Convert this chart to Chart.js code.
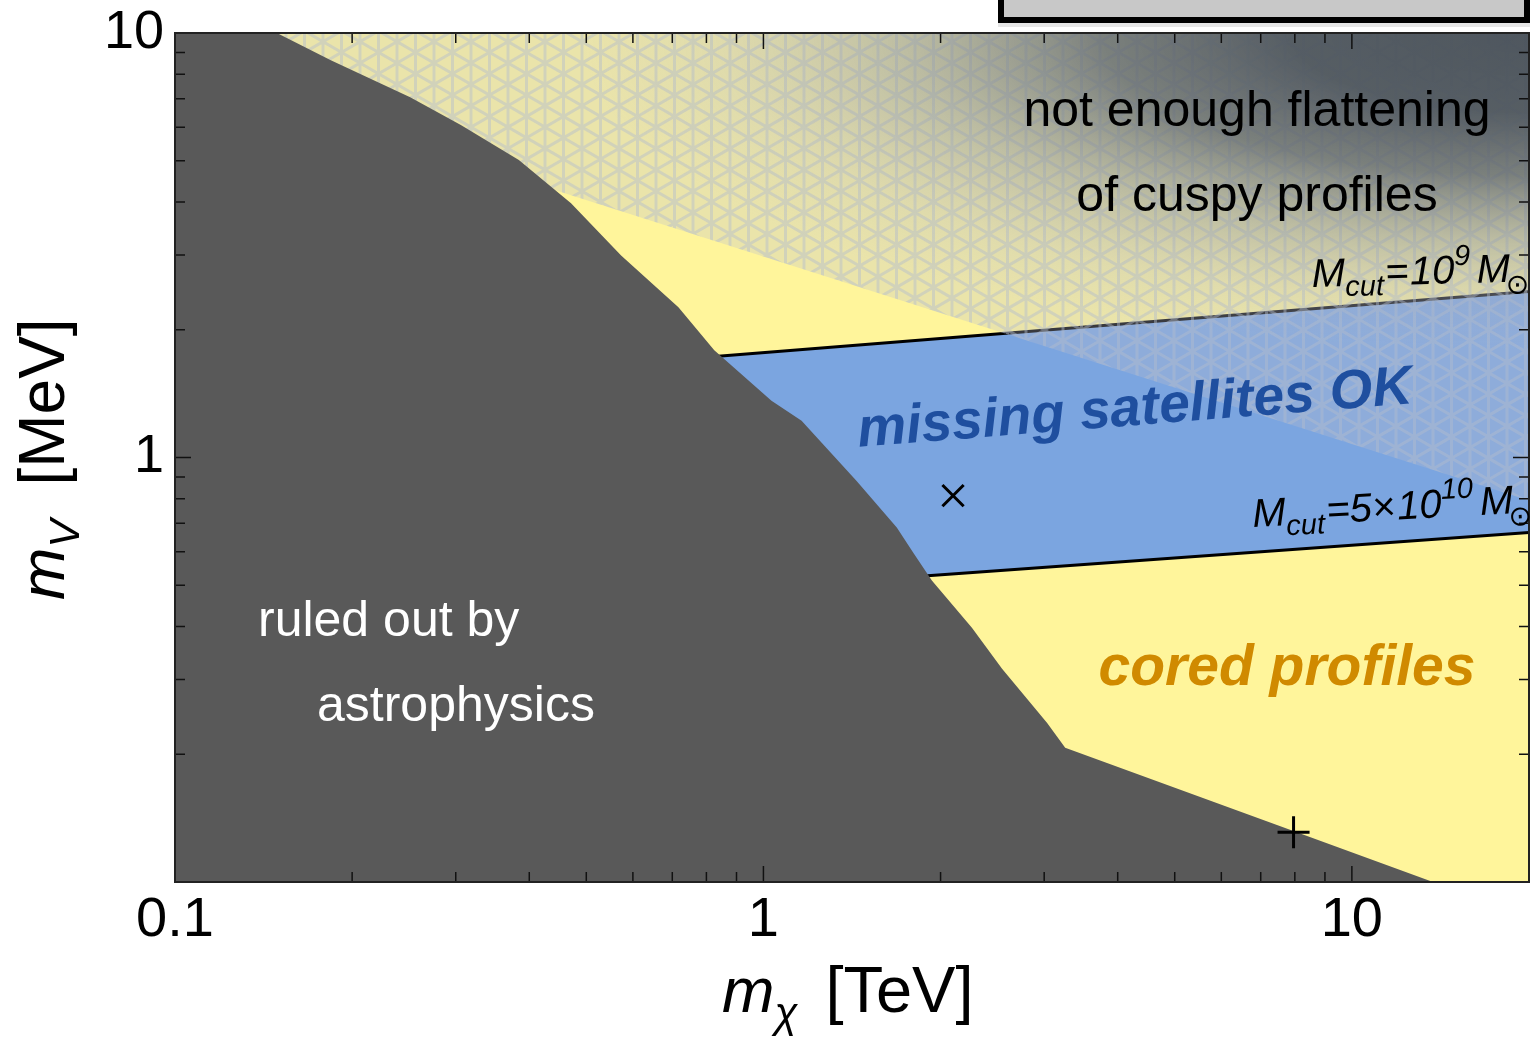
<!DOCTYPE html>
<html>
<head>
<meta charset="utf-8">
<script src="https://cdn.jsdelivr.net/npm/chart.js@4.4.1/dist/chart.umd.min.js"></script>
<style>
  body { margin: 0; background: #fff; }
  #wrap { width: 1532px; height: 1037px; }
</style>
</head>
<body>
<div id="wrap"><canvas id="chart" width="1532" height="1037"></canvas></div>
<script>
// axis ranges and ticks
var xRange = [0.1, 20];
var yRange = [0.1, 10];
var xTicks = [0.1, 0.2, 0.3, 0.4, 0.5, 0.6, 0.7, 0.8, 0.9, 1, 2, 3, 4, 5, 6, 7, 8, 9, 10, 20];
var yTicks = [0.1, 0.2, 0.3, 0.4, 0.5, 0.6, 0.7, 0.8, 0.9, 1, 2, 3, 4, 5, 6, 7, 8, 9, 10];
var xTickLabels = { 0.1: '0.1', 1: '1', 10: '10' };
var yTickLabels = { 1: '1', 10: '10' };

// ruled out by astrophysics (boundary, filled down to the bottom)
var ruledOutX = [0.1, 0.149, 0.184, 0.251, 0.306, 0.384, 0.471, 0.573, 0.717, 0.825, 1.032, 1.161, 1.44, 1.685, 1.801, 1.933, 2.261, 2.544, 3.035, 3.257, 7.934, 13.74];
var ruledOutY = [10, 10, 8.63, 7.06, 6.07, 5.02, 3.97, 2.99, 2.26, 1.79, 1.36, 1.22, 0.88, 0.684, 0.594, 0.513, 0.397, 0.318, 0.237, 0.207, 0.132, 0.1];

// M_cut = 1e9 Msun and 5e10 Msun lines
var cut9X = [0.75, 20];
var cut9Y = [1.71, 2.46];
var cut510X = [1.8, 20];
var cut510Y = [0.524, 0.666];

// "missing satellites OK" band (left side hidden under the ruled-out region)
var bandX = [0.75, 20, 20, 1.8, 0.75];
var bandY = [1.71, 2.46, 0.666, 0.524, 0.524];

// "not enough flattening" shaded region
var cuspyX = [0.12, 0.3, 20, 20];
var cuspyY = [10, 5.06, 0.792, 10];

// benchmark points
var crossX = [2.1];
var crossY = [0.813];
var plusX = [7.96];
var plusY = [0.131];

var FONT = "'Liberation Sans', Arial, Helvetica, sans-serif";

function pts(xs, ys) {
    return xs.map(function (x, i) { return { x: x, y: ys[i] }; });
}

var overlayCache = null;
function overlayFill(chart) {
    var a = chart.chartArea;
    if (!a) return 'rgba(0,0,0,0)';
    if (overlayCache) return overlayCache;
    var c = document.createElement('canvas');
    c.width = chart.width;
    c.height = chart.height;
    var g = c.getContext('2d');
    var w = a.right - a.left, h = a.bottom - a.top;
    g.fillStyle = 'rgba(185,190,205,0.3)';
    g.fillRect(a.left, a.top, w, h);
    // triangular mesh
    g.strokeStyle = 'rgba(180,188,205,0.45)';
    g.lineWidth = 3;
    g.beginPath();
    var d = 18.5;
    for (var x = a.left; x <= a.right; x += d) {
        g.moveTo(x, a.top);
        g.lineTo(x, a.bottom);
    }
    var k = Math.tan(Math.PI / 6), dc = d / Math.cos(Math.PI / 6);
    for (var c0 = a.top - w * k; c0 <= a.bottom + w * k; c0 += dc) {
        g.moveTo(a.left, c0);
        g.lineTo(a.right, c0 + w * k);
        g.moveTo(a.left, c0);
        g.lineTo(a.right, c0 - w * k);
    }
    g.stroke();
    // dark corner
    g.save();
    g.translate(a.right, a.top);
    g.scale(1, 1 / 3);
    var rg = g.createRadialGradient(0, 0, 0, 0, 0, 950);
    rg.addColorStop(0, 'rgba(74,82,92,0.97)');
    rg.addColorStop(0.25, 'rgba(78,86,96,0.95)');
    rg.addColorStop(0.45, 'rgba(95,103,113,0.8)');
    rg.addColorStop(0.65, 'rgba(130,138,150,0.45)');
    rg.addColorStop(0.85, 'rgba(160,166,180,0.15)');
    rg.addColorStop(1, 'rgba(170,175,190,0)');
    g.fillStyle = rg;
    g.fillRect(-2000, -100, 2100, 3000);
    g.restore();
    overlayCache = g.createPattern(c, 'no-repeat');
    return overlayCache;
}

function richText(ctx, x, y, angle, parts) {
    ctx.save();
    ctx.translate(x, y);
    ctx.rotate(angle * Math.PI / 180);
    ctx.textBaseline = 'alphabetic';
    ctx.textAlign = 'left';
    var cx = 0;
    parts.forEach(function (p) {
        ctx.font = p.font;
        ctx.fillStyle = p.color || '#000';
        if (p.text) {
            ctx.fillText(p.text, cx, p.dy || 0);
            cx += ctx.measureText(p.text).width;
        }
        cx += p.gap || 0;
    });
    ctx.restore();
}

function noScalePadding(s) {
    s.paddingLeft = 0;
    s.paddingRight = 0;
    s.paddingTop = 0;
    s.paddingBottom = 0;
}

var backgroundPlugin = {
    id: 'yellowBack',
    beforeDatasetsDraw: function (chart) {
        var a = chart.chartArea, ctx = chart.ctx;
        ctx.save();
        ctx.fillStyle = '#fff59b';
        ctx.fillRect(a.left, a.top, a.right - a.left, a.bottom - a.top);
        ctx.restore();
    }
};

var framePlugin = {
    id: 'frameTicks',
    afterDatasetsDraw: function (chart) {
        var a = chart.chartArea, ctx = chart.ctx;
        var xs = chart.scales.x, ys = chart.scales.y;
        ctx.save();
        ctx.strokeStyle = '#111';
        ctx.lineWidth = 1.5;
        ctx.beginPath();
        xTicks.forEach(function (v) {
            var px = xs.getPixelForValue(v);
            var len = xTickLabels[v] ? 16 : 10;
            ctx.moveTo(px, a.bottom); ctx.lineTo(px, a.bottom - len);
            ctx.moveTo(px, a.top); ctx.lineTo(px, a.top + len);
        });
        yTicks.forEach(function (v) {
            var py = ys.getPixelForValue(v);
            var len = (v === 1 || v === 10 || v === 0.1) ? 16 : 10;
            ctx.moveTo(a.left, py); ctx.lineTo(a.left + len, py);
            ctx.moveTo(a.right, py); ctx.lineTo(a.right - len, py);
        });
        ctx.stroke();
        ctx.strokeStyle = '#222';
        ctx.lineWidth = 2;
        ctx.strokeRect(a.left, a.top, a.right - a.left, a.bottom - a.top);
        ctx.restore();
    }
};

var labelPlugin = {
    id: 'labels',
    afterDraw: function (chart) {
        var ctx = chart.ctx;
        ctx.save();
        // clipped legend box at the top
        ctx.fillStyle = '#e6e6e6';
        ctx.fillRect(998, 20, 532, 7);
        ctx.fillStyle = '#c8c8c8';
        ctx.fillRect(1000, -10, 528, 30);
        ctx.strokeStyle = '#000';
        ctx.lineWidth = 6;
        ctx.strokeRect(1001, -10, 526, 30);

        ctx.textBaseline = 'alphabetic';
        ctx.fillStyle = '#000';
        ctx.textAlign = 'center';
        ctx.font = '50px ' + FONT;
        ctx.fillText('not enough flattening', 1257, 126);
        ctx.fillText('of cuspy profiles', 1257, 211);

        ctx.fillStyle = '#fff';
        ctx.textAlign = 'left';
        ctx.fillText('ruled out by', 258, 636);
        ctx.fillText('astrophysics', 317, 721);

        ctx.fillStyle = '#d08a00';
        ctx.textAlign = 'center';
        ctx.font = 'italic bold 57px ' + FONT;
        ctx.fillText('cored profiles', 1287, 685);

        ctx.save();
        ctx.translate(1136, 425);
        ctx.rotate(-4.5 * Math.PI / 180);
        ctx.fillStyle = '#1f4f9f';
        ctx.font = 'italic bold 55px ' + FONT;
        ctx.fillText('missing satellites OK', 0, 0);
        ctx.restore();

        var it = function (s) { return 'italic ' + s + 'px ' + FONT; };
        richText(ctx, 1312, 287, -1.5, [
            { text: 'M', font: it(40) },
            { text: 'cut', font: it(29), dy: 10, gap: 2 },
            { text: '=', font: 40 + 'px ' + FONT, gap: 1 },
            { text: '10', font: it(40) },
            { text: '9', font: it(29), dy: -18, gap: 6 },
            { text: 'M', font: it(40), gap: -5 },
            { text: '\u2299', font: 28 + 'px ' + FONT, dy: 12 }
        ]);
        richText(ctx, 1253, 527, -3, [
            { text: 'M', font: it(40) },
            { text: 'cut', font: it(29), dy: 10, gap: 2 },
            { text: '=5\u00d7', font: it(40), gap: 2 },
            { text: '10', font: it(40) },
            { text: '10', font: it(29), dy: -18, gap: 6 },
            { text: 'M', font: it(40), gap: -5 },
            { text: '\u2299', font: 28 + 'px ' + FONT, dy: 12 }
        ]);

        // axis titles
        richText(ctx, 722, 1012, 0, [
            { text: 'm', font: it(63) },
            { text: '\u03c7', font: it(42), dy: 15, gap: 28 },
            { text: '[TeV]', font: '65px ' + FONT }
        ]);
        richText(ctx, 64, 600, -90, [
            { text: 'm', font: it(63) },
            { text: 'V', font: it(42), dy: 15, gap: 34 },
            { text: '[MeV]', font: '64px ' + FONT }
        ]);
        ctx.restore();
    }
};

var ctx = document.getElementById('chart').getContext('2d');
new Chart(ctx, {
    type: 'line',
    data: {
        datasets: [
            {
                label: 'benchmark x',
                data: pts(crossX, crossY),
                showLine: false,
                pointStyle: 'crossRot',
                pointRadius: 15,
                pointBorderWidth: 3,
                pointBorderColor: '#000',
                order: 0
            },
            {
                label: 'benchmark +',
                data: pts(plusX, plusY),
                showLine: false,
                pointStyle: 'cross',
                pointRadius: 16,
                pointBorderWidth: 3,
                pointBorderColor: '#000',
                order: 0
            },
            {
                label: 'ruled out',
                data: pts(ruledOutX, ruledOutY),
                borderWidth: 0,
                borderColor: 'rgba(0,0,0,0)',
                backgroundColor: '#595959',
                fill: 'start',
                pointRadius: 0,
                tension: 0,
                order: 1
            },
            {
                label: 'not enough flattening',
                data: pts(cuspyX, cuspyY),
                borderWidth: 0,
                borderColor: 'rgba(0,0,0,0)',
                backgroundColor: function (c) { return overlayFill(c.chart); },
                fill: 'shape',
                pointRadius: 0,
                tension: 0,
                order: 2
            },
            {
                label: 'Mcut 1e9',
                data: pts(cut9X, cut9Y),
                borderWidth: 3,
                borderColor: '#000',
                fill: false,
                pointRadius: 0,
                tension: 0,
                order: 3
            },
            {
                label: 'Mcut 5e10',
                data: pts(cut510X, cut510Y),
                borderWidth: 3,
                borderColor: '#000',
                fill: false,
                pointRadius: 0,
                tension: 0,
                order: 3
            },
            {
                label: 'missing satellites OK',
                data: pts(bandX, bandY),
                borderWidth: 0,
                borderColor: 'rgba(0,0,0,0)',
                backgroundColor: '#7ba5e0',
                fill: 'shape',
                pointRadius: 0,
                tension: 0,
                order: 4
            }
        ]
    },
    options: {
        responsive: false,
        animation: false,
        layout: { autoPadding: false, padding: { top: 33, right: 3, left: 0, bottom: 0 } },
        plugins: {
            legend: { display: false },
            tooltip: { enabled: false }
        },
        scales: {
            x: {
                type: 'logarithmic',
                position: 'bottom',
                min: xRange[0],
                max: xRange[1],
                afterBuildTicks: function (s) { s.ticks = xTicks.map(function (v) { return { value: v }; }); },
                afterFit: function (s) { s.height = 155; noScalePadding(s); },
                grid: { display: false },
                border: { display: false },
                ticks: {
                    autoSkip: false,
                    maxRotation: 0,
                    padding: -3,
                    color: '#000',
                    font: { family: FONT, size: 56 },
                    callback: function (v) { return xTickLabels[v] || ''; }
                }
            },
            y: {
                type: 'logarithmic',
                min: yRange[0],
                max: yRange[1],
                afterBuildTicks: function (s) { s.ticks = yTicks.map(function (v) { return { value: v }; }); },
                afterFit: function (s) { s.width = 175; noScalePadding(s); },
                grid: { display: false },
                border: { display: false },
                ticks: {
                    autoSkip: false,
                    padding: 3,
                    color: '#000',
                    font: { family: FONT, size: 54 },
                    callback: function (v) { return yTickLabels[v] || ''; }
                }
            }
        }
    },
    plugins: [backgroundPlugin, framePlugin, labelPlugin]
});
</script>
</body>
</html>
